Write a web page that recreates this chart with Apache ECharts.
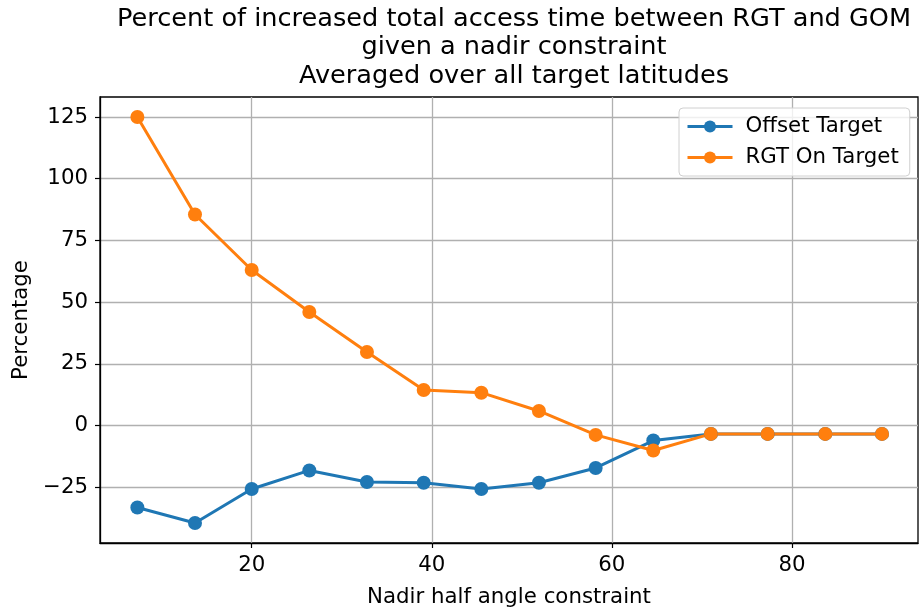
<!DOCTYPE html>
<html lang="en">
<head>
    <meta charset="UTF-8">
    <title>Percent of increased total access time</title>
    <style>
        html, body {
            margin: 0;
            padding: 0;
            background: white;
        }

        #fig {
            height: 613px;
            width: 919px;
        }
    </style>
    <script src="https://cdn.jsdelivr.net/npm/echarts@6/dist/echarts.min.js"></script>
</head>
<body>
    <div id="fig"></div>
    <script>
        // nadir half angles (x)
        const nadirAngles = [7.3, 13.7, 20.0, 26.4, 32.8, 39.1, 45.5, 51.9, 58.2, 64.6, 71.0, 77.3, 83.7, 90.0];
        const offsetTarget = [-33.2, -39.5, -25.7, -18.2, -22.9, -23.2, -25.7, -23.2, -17.2, -6.1, -3.4, -3.4, -3.4, -3.4];
        const rgtOnTarget = [125.0, 85.5, 63.0, 46.0, 29.8, 14.4, 13.3, 5.9, -3.8, -10.1, -3.4, -3.4, -3.4, -3.4];
        const xTicks = [20, 40, 60, 80];
        const yTicks = [-25, 0, 25, 50, 75, 100, 125];

        const FONT = 'DejaVu Sans';
        const FS = 21.3;

        function pairs(xs, ys) {
            let out = [];
            for (let i = 0; i < xs.length; i++) {
                out.push([xs[i], ys[i]]);
            }
            return out;
        }

        let fig = echarts.init(document.getElementById('fig'), null, {renderer: 'canvas'});

        let option = {
            animation: false,
            backgroundColor: '#ffffff',
            textStyle: {fontFamily: FONT},
            title: {
                text: 'Percent of increased total access time between RGT and GOM\ngiven a nadir constraint\nAveraged over all target latitudes',
                left: 509,
                top: 0,
                textAlign: 'center',
                textStyle: {
                    fontFamily: FONT,
                    fontSize: 25.6,
                    fontWeight: 'normal',
                    color: '#000',
                    lineHeight: 28.5
                }
            },
            grid: {
                left: 100,
                right: 1,
                top: 97,
                bottom: 70,
                show: true,
                borderColor: '#000',
                borderWidth: 1.3,
                backgroundColor: '#fff'
            },
            legend: {
                left: 679,
                top: 108,
                orient: 'vertical',
                itemWidth: 45,
                itemHeight: 15,
                itemGap: 10,
                padding: [8, 11, 8, 7],
                borderColor: '#d0d0d0',
                borderWidth: 1,
                borderRadius: 4,
                backgroundColor: 'rgba(255,255,255,0.8)',
                lineStyle: {width: 3},
                textStyle: {fontFamily: FONT, fontSize: FS, color: '#000', padding: [0, 0, 0, 8]},
                data: ['Offset Target', 'RGT On Target']
            },
            xAxis: {
                type: 'value',
                min: 3.15,
                max: 94,
                name: 'Nadir half angle constraint',
                nameLocation: 'middle',
                nameGap: 44,
                nameTextStyle: {fontFamily: FONT, fontSize: FS, color: '#000'},
                axisLine: {show: true, onZero: false, lineStyle: {color: '#000', width: 1.3}},
                axisTick: {show: true, customValues: xTicks, length: 5, lineStyle: {color: '#000', width: 1.2}},
                axisLabel: {customValues: xTicks, fontFamily: FONT, fontSize: FS, color: '#000', margin: 12},
                splitLine: {show: true, lineStyle: {color: '#b0b0b0', width: 1.3}}
            },
            yAxis: {
                type: 'value',
                min: -47.6,
                max: 133.1,
                name: 'Percentage',
                nameLocation: 'middle',
                nameGap: 57,
                nameTextStyle: {fontFamily: FONT, fontSize: FS, color: '#000'},
                axisLine: {show: true, onZero: false, lineStyle: {color: '#000', width: 1.3}},
                axisTick: {show: true, customValues: yTicks, length: 5, lineStyle: {color: '#000', width: 1.2}},
                axisLabel: {
                    customValues: yTicks,
                    fontFamily: FONT,
                    fontSize: FS,
                    color: '#000',
                    margin: 12,
                    formatter: (v) => v < 0 ? '\u2212' + Math.abs(v) : String(v)
                },
                splitLine: {show: true, lineStyle: {color: '#b0b0b0', width: 1.3}}
            },
            series: [
                {
                    name: 'Offset Target',
                    type: 'line',
                    data: pairs(nadirAngles, offsetTarget),
                    symbol: 'circle',
                    symbolSize: 14,
                    color: '#1f77b4',
                    lineStyle: {width: 3, color: '#1f77b4'},
                    itemStyle: {color: '#1f77b4'}
                },
                {
                    name: 'RGT On Target',
                    type: 'line',
                    data: pairs(nadirAngles, rgtOnTarget),
                    symbol: 'circle',
                    symbolSize: 14,
                    color: '#ff7f0e',
                    lineStyle: {width: 3, color: '#ff7f0e'},
                    itemStyle: {color: '#ff7f0e'}
                }
            ]
        };

        fig.setOption(option);
    </script>
</body>
</html>
